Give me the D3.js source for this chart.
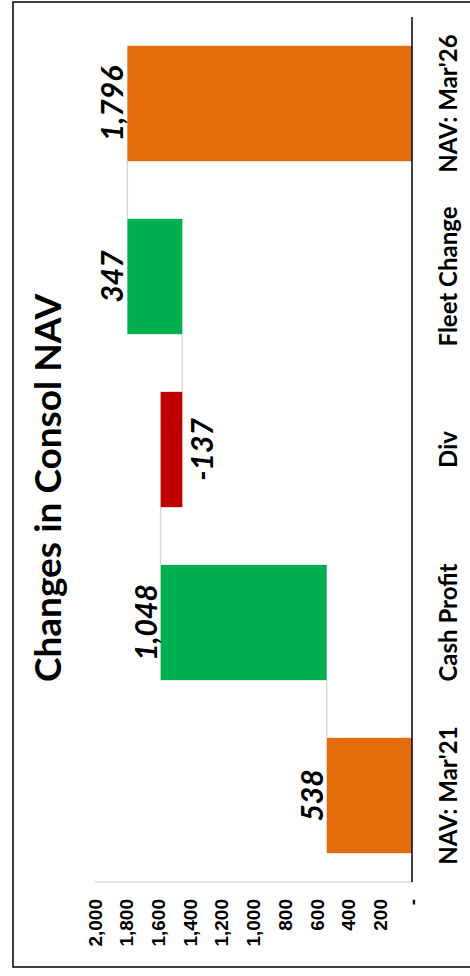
<!DOCTYPE html>
<html>
<head>
<meta charset="utf-8">
<script src="https://cdn.jsdelivr.net/npm/d3@7"></script>
<style>
  html, body { margin: 0; padding: 0; background: #fff; }
  svg { display: block; }
</style>
</head>
<body>
<svg id="chart" width="470" height="976"></svg>
<script>
// ─── Data ─────────────────────────────────────────────────────────────────────
const categories = ["NAV: Mar'21", "Cash Profit", "Div", "Fleet Change", "NAV: Mar'26"];
const values = [538, 1048, -137, 347, 1796];
const kinds = ["total", "delta", "delta", "delta", "total"];
const tickValues = [0, 200, 400, 600, 800, 1000, 1200, 1400, 1600, 1800, 2000];
const title = "Changes in Consol NAV";

const COLORS = { total: "#E36C0A", up: "#00B050", down: "#C00000" };

const svg = d3.select("#chart");
const labelFont = "Lato, 'Open Sans', sans-serif";

// outer frame
svg.append("rect")
    .attr("x", 13).attr("y", 2)
    .attr("width", 470).attr("height", 965)
    .attr("fill", "none")
    .attr("stroke", "#000")
    .attr("stroke-width", 1.5);

// Chart is drawn rotated: values run right-to-left, categories bottom-to-top
const x = d3.scaleLinear().domain([0, 2000]).range([412, 95]);
const y = d3.scaleBand()
    .domain(categories)
    .range([882, 17])
    .paddingInner(1 / 3)
    .paddingOuter(1 / 6);

// build waterfall steps
let running = 0;
const steps = categories.map((cat, i) => {
    let from, to;
    if (kinds[i] === "total") {
        from = 0; to = values[i];
    } else {
        from = running; to = running + values[i];
    }
    running = to;
    return { cat, value: values[i], kind: kinds[i], from, to, level: to };
});

// value axis (light gray line + rotated labels)
svg.append("line")
    .attr("x1", x(2000)).attr("x2", x(0))
    .attr("y1", 882).attr("y2", 882)
    .attr("stroke", "#d9d9d9")
    .attr("stroke-width", 1.5);

// excel-style number format, plain hyphen for negatives
const fmt = v => d3.format(",")(v).replace("\u2212", "-");
svg.append("g").selectAll("text")
    .data(tickValues)
    .join("text")
    .attr("transform", d => `translate(${x(d)},899) rotate(-90)`)
    .attr("text-anchor", "end")
    .attr("dy", "0.35em")
    .style("font-family", "'Liberation Sans', Arial, sans-serif")
    .style("font-weight", "bold")
    .style("font-size", "19px")
    .text(d => d === 0 ? "-" : fmt(d));

// connectors between bars
svg.append("g").selectAll("line")
    .data(steps.slice(0, -1))
    .join("line")
    .attr("x1", d => x(d.level)).attr("x2", d => x(d.level))
    .attr("y1", d => y(d.cat))
    .attr("y2", (d, i) => y(steps[i + 1].cat) + y.bandwidth())
    .attr("stroke", "#d9d9d9")
    .attr("stroke-width", 1.5);

// bars
svg.append("g").selectAll("rect")
    .data(steps)
    .join("rect")
    .attr("x", d => x(Math.max(d.from, d.to)))
    .attr("width", d => Math.abs(x(d.from) - x(d.to)))
    .attr("y", d => y(d.cat))
    .attr("height", y.bandwidth())
    .attr("fill", d => d.kind === "total" ? COLORS.total : (d.value >= 0 ? COLORS.up : COLORS.down));

// category axis line
svg.append("line")
    .attr("x1", 412).attr("x2", 412)
    .attr("y1", 17).attr("y2", 882)
    .attr("stroke", "#000")
    .attr("stroke-width", 1.5);

// category labels
svg.append("g").selectAll("text")
    .data(categories)
    .join("text")
    .attr("transform", d => `translate(457,${y(d) + y.bandwidth() / 2}) rotate(-90)`)
    .attr("text-anchor", "middle")
    .style("font-family", labelFont)
    .style("font-weight", "bold")
    .style("font-size", "24px")
    .text(d => d);

// data labels (bold italic)
svg.append("g").selectAll("text")
    .data(steps)
    .join("text")
    .attr("transform", d => {
        const yc = y(d.cat) + y.bandwidth() / 2;
        if (d.value >= 0) return `translate(${x(Math.max(d.from, d.to)) - 4},${yc}) rotate(-90)`;
        return `translate(${x(Math.min(d.from, d.to)) + 31},${yc}) rotate(-90)`;
    })
    .attr("text-anchor", "middle")
    .style("font-family", labelFont)
    .style("font-weight", "bold")
    .style("font-style", "italic")
    .style("font-size", "30px")
    .text(d => fmt(d.value));

// title
svg.append("text")
    .attr("transform", "translate(61,488) rotate(-90)")
    .attr("text-anchor", "middle")
    .style("font-family", labelFont)
    .style("font-weight", "bold")
    .style("font-size", "37px")
    .text(title);
</script>
</body>
</html>
